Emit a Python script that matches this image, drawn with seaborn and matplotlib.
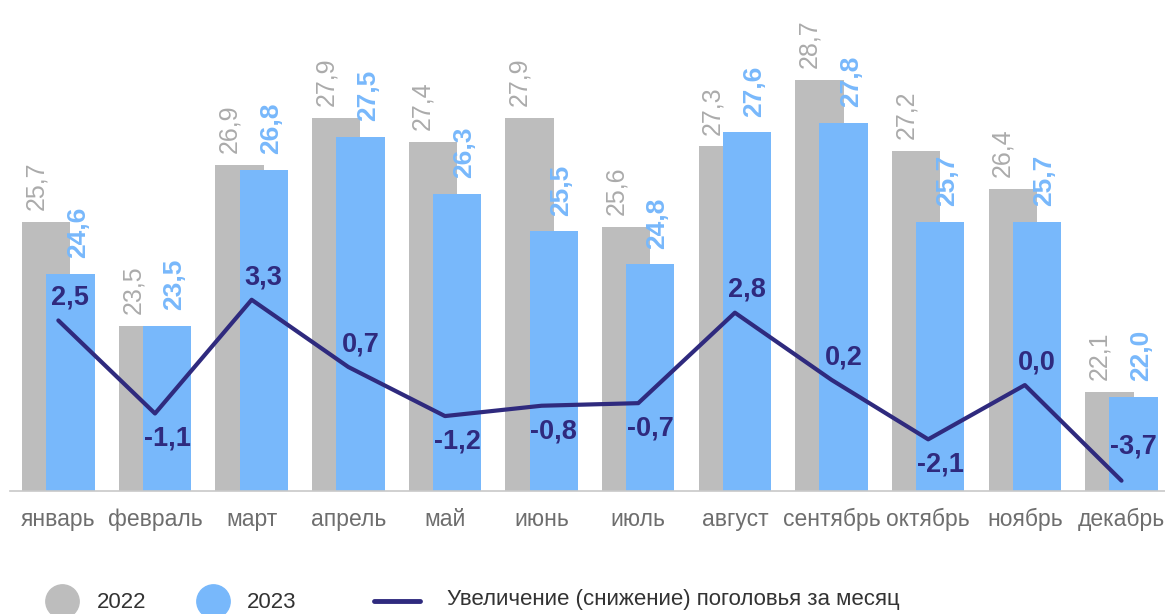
import matplotlib
matplotlib.use("Agg")
import matplotlib.pyplot as plt
import seaborn as sns
import pandas as pd
import numpy as np
from matplotlib.lines import Line2D

months = ["январь", "февраль", "март", "апрель", "май", "июнь",
          "июль", "август", "сентябрь", "октябрь", "ноябрь", "декабрь"]
values_2022 = [25.7, 23.5, 26.9, 27.9, 27.4, 27.9, 25.6, 27.3, 28.7, 27.2, 26.4, 22.1]
values_2023 = [24.6, 23.5, 26.8, 27.5, 26.3, 25.5, 24.8, 27.6, 27.8, 25.7, 25.7, 22.0]
change = [2.5, -1.1, 3.3, 0.7, -1.2, -0.8, -0.7, 2.8, 0.2, -2.1, 0.0, -3.7]
legend_labels = ["2022", "2023", "Увеличение (снижение) поголовья за месяц"]

GRAY = "#bdbdbd"
BLUE = "#78b8fb"
NAVY = "#2f2a7e"
GRAY_TXT = "#ababab"
W, H = 1165, 614


def fmt(v):
    return f"{v:.1f}".replace(".", ",")


def fx(px):
    return px / W


def fy(py):
    return 1 - py / H


sns.set_theme(style="white")
plt.rcParams["font.family"] = ["Liberation Sans", "DejaVu Sans"]

fig = plt.figure(figsize=(W / 100, H / 100), dpi=100)
ax = fig.add_axes([0.0086, 0.2003, 0.9914, 0.7997])

x = np.arange(len(months))
off = 0.125
w = 0.5

df = pd.DataFrame({"x": x, "m": months, "y22": values_2022, "y23": values_2023, "d": change})

ax.bar(x - off, values_2022, width=w, color=GRAY, linewidth=0, zorder=1)
ax.bar(x + off, values_2023, width=w, color=BLUE, linewidth=0, zorder=2)

for i in range(len(months)):
    ax.text(x[i] - 0.23, values_2022[i] + 0.25, fmt(values_2022[i]), rotation=90,
            ha="center", va="bottom", fontsize=18, color=GRAY_TXT, zorder=3)
    ax.text(x[i] + 0.2, values_2023[i] + 0.33, fmt(values_2023[i]), rotation=90,
            ha="center", va="bottom", fontsize=19, color=BLUE, fontweight="bold", zorder=3)

ax.set_ylim(20, 30.4)
ax.set_xlim(-0.5, 11.45)
ax.set_yticks([])
ax.set_xticks(x)
ax.set_xticklabels(months, fontsize=16.5, color="#6e6e6e")
ax.tick_params(axis="x", length=0, pad=12)
for s in ["top", "right", "left"]:
    ax.spines[s].set_visible(False)
ax.spines["bottom"].set_color("#c8c8c8")
ax.spines["bottom"].set_linewidth(1.2)

ax2 = ax.twinx()
sns.lineplot(data=df, x="x", y="d", ax=ax2, color=NAVY, linewidth=3, zorder=5)
ax2.set_ylim(-4.1, 14.9)
ax2.set_yticks([])
ax2.set_ylabel("")
ax2.set_xlabel("")
ax2.set_xlim(-0.5, 11.45)
for s in ["top", "right", "left", "bottom"]:
    ax2.spines[s].set_visible(False)

last = len(change) - 1
for i, v in enumerate(change):
    if i == last:
        dy, va = 15, "bottom"
    elif v >= 0:
        dy, va = 7, "bottom"
    else:
        dy, va = -9, "top"
    ax2.annotate(fmt(v), (x[i] + off, v), xytext=(0, dy), textcoords="offset points",
                 ha="center", va=va, fontsize=19.5, fontweight="bold", color=NAVY)

# legend drawn by hand to match spacing
fig.add_artist(Line2D([fx(62)], [fy(601)], marker="o", markersize=24, color=GRAY,
                      linestyle="none", transform=fig.transFigure))
fig.add_artist(Line2D([fx(213)], [fy(601)], marker="o", markersize=24, color=BLUE,
                      linestyle="none", transform=fig.transFigure))
fig.add_artist(Line2D([fx(374), fx(420)], [fy(601), fy(601)], color=NAVY, linewidth=3.5,
                      transform=fig.transFigure))
for px, py, lab in zip([97, 247, 447], [602, 602, 600], legend_labels):
    fig.text(fx(px), fy(py), lab, ha="left", va="center", fontsize=16, color="#333333")

fig.savefig("out.png", dpi=100)
